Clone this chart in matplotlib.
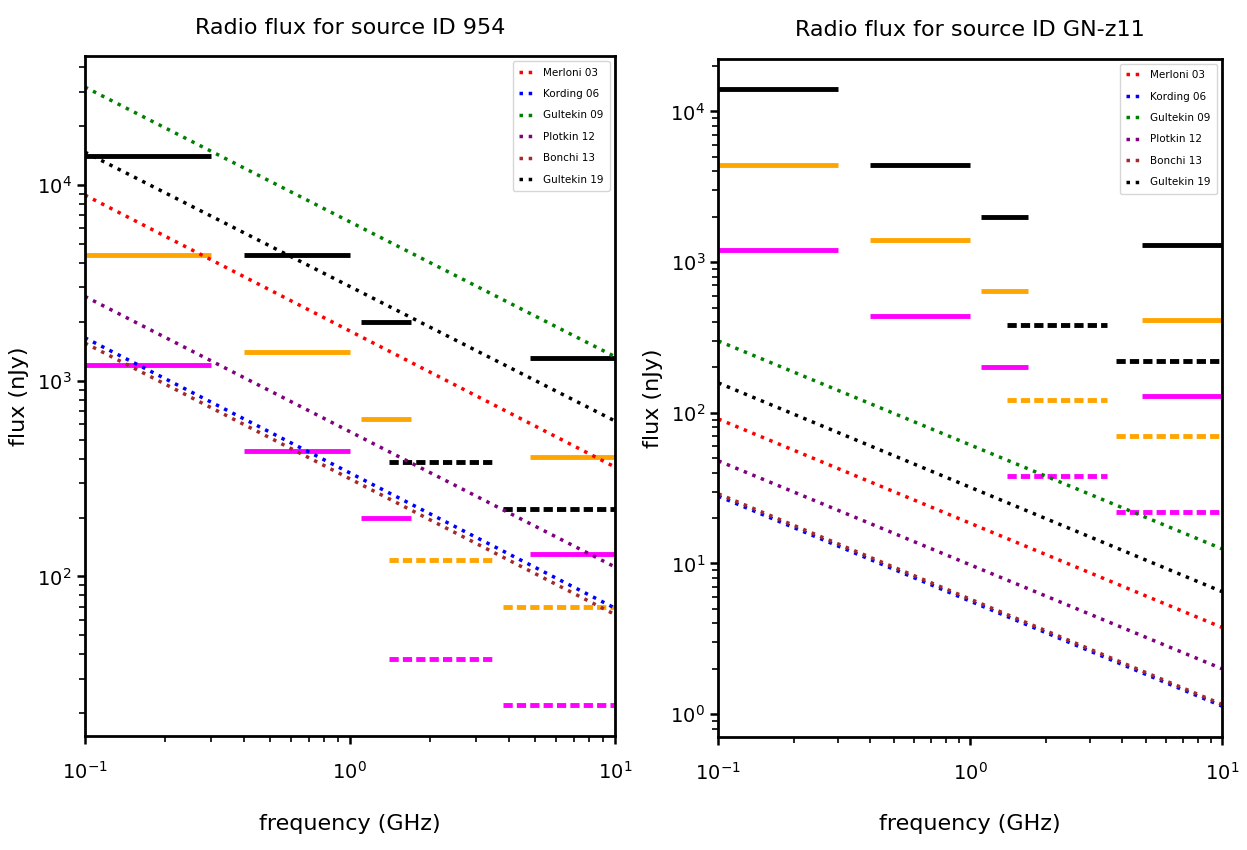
import numpy as np
import matplotlib
matplotlib.use('Agg')
import matplotlib.pyplot as plt

# ======== データ ========
freq_ends = [0.1, 10]  # 線の両端（GHz）

# 関係式ごとの flux (nJy)：0.1 GHz と 10 GHz の値
relations = ['Merloni 03', 'Kording 06', 'Gultekin 09', 'Plotkin 12', 'Bonchi 13', 'Gultekin 19']
rel_colors = ['red', 'blue', 'green', 'purple', 'brown', 'black']

flux_954 = {
    'Merloni 03': [8900, 363],
    'Kording 06': [1660, 69],
    'Gultekin 09': [31700, 1330],
    'Plotkin 12': [2700, 112],
    'Bonchi 13': [1560, 64],
    'Gultekin 19': [14750, 624],
}
flux_gnz11 = {
    'Merloni 03': [91, 3.76],
    'Kording 06': [28, 1.13],
    'Gultekin 09': [300, 12.5],
    'Plotkin 12': [48, 2.0],
    'Bonchi 13': [29, 1.16],
    'Gultekin 19': [158, 6.5],
}

# 感度（横棒）
bands_solid = [(0.1, 0.3), (0.4, 1.0), (1.1, 1.7), (4.8, 10)]
bands_dashed = [(1.4, 3.5), (3.8, 10)]
black_solid = [14000, 4400, 2000, 1300]
orange_solid = [4400, 1400, 640, 410]
magenta_solid = [1200, 440, 200, 130]
black_dashed = [385, 220]
orange_dashed = [121, 70]
magenta_dashed = [38, 22]

# ======== 描画 ========
plt.rcParams['font.family'] = 'DejaVu Sans'
plt.rcParams['mathtext.default'] = 'regular'
plt.rcParams['xtick.labelsize'] = 14
plt.rcParams['ytick.labelsize'] = 14

fig = plt.figure(figsize=(12.47, 8.5), dpi=100)
ax1 = fig.add_axes([0.068, 0.134, 0.425, 0.800])
ax2 = fig.add_axes([0.576, 0.133, 0.404, 0.798])


def draw(ax, flux, title, ylab_x):
    for (a, b), v in zip(bands_solid, black_solid):
        ax.plot([a, b], [v, v], color='black', lw=3.5, solid_capstyle='butt')
    for (a, b), v in zip(bands_solid, orange_solid):
        ax.plot([a, b], [v, v], color='orange', lw=3.5, solid_capstyle='butt')
    for (a, b), v in zip(bands_solid, magenta_solid):
        ax.plot([a, b], [v, v], color='magenta', lw=3.5, solid_capstyle='butt')
    for vals, c in [(black_dashed, 'black'), (orange_dashed, 'orange'), (magenta_dashed, 'magenta')]:
        for (a, b), v in zip(bands_dashed, vals):
            ax.plot([a, b], [v, v], color=c, lw=3.5, dashes=(1.9, 0.85),
                    dash_capstyle='butt')

    for name, c in zip(relations, rel_colors):
        ax.plot(freq_ends, flux[name], ':', color=c, lw=2.5, label=name)

    ax.set_xscale('log')
    ax.set_yscale('log')
    ax.set_xlim(0.1, 10)
    ax.set_title(title, fontsize=16, pad=16)
    ax.set_xlabel('frequency (GHz)', fontsize=16, labelpad=22)
    ax.set_ylabel('flux (nJy)', fontsize=16)
    ax.yaxis.set_label_coords(ylab_x, 0.5)
    for s in ax.spines.values():
        s.set_linewidth(2)
    ax.tick_params(which='major', length=6, width=1.8)
    ax.tick_params(axis='x', which='major', pad=12)
    ax.tick_params(which='minor', length=4, width=1.2)
    ax.legend(loc='upper right', fontsize=7.5, handlelength=1.5,
              labelspacing=1.1, borderpad=0.6, framealpha=0.8)


draw(ax1, flux_954, 'Radio flux for source ID 954', -0.105)
draw(ax2, flux_gnz11, 'Radio flux for source ID GN-z11', -0.11)

plt.savefig('out.png')
print('Done!')
